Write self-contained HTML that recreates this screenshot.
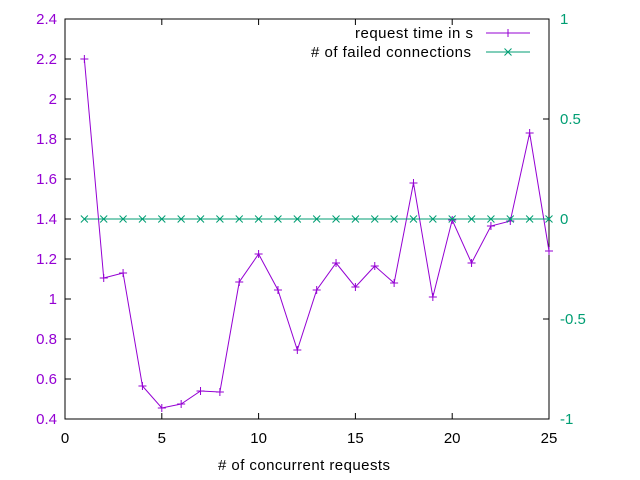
<!DOCTYPE html>
<html><head><meta charset="utf-8"><style>
body{margin:0;background:#fff}
svg{display:block;font-family:"Liberation Sans",sans-serif;font-size:15px}
</style></head><body>
<svg id="c" width="640" height="480">
</svg>
<script>
const categories=[1,2,3,4,5,6,7,8,9,10,11,12,13,14,15,16,17,18,19,20,21,22,23,24,25];
const requestTime=[2.2,1.105,1.13,0.565,0.455,0.475,0.54,0.535,1.085,1.225,1.045,0.745,1.045,1.18,1.06,1.165,1.08,1.58,1.01,1.395,1.18,1.365,1.39,1.83,1.24];
const failedConn=[0,0,0,0,0,0,0,0,0,0,0,0,0,0,0,0,0,0,0,0,0,0,0,0,0];
const xTicks=[0,5,10,15,20,25];
const yTicks=[0.4,0.6,0.8,1,1.2,1.4,1.6,1.8,2,2.2,2.4];
const y2Ticks=[-1,-0.5,0,0.5,1];
const L=65,R=549,T=19,B=419;
const X=v=>L+(v-0)/25*(R-L);
const Y=v=>B-(v-0.4)/2*(B-T);
const Y2=v=>B-(v+1)/2*(B-T);
const svg=document.getElementById('c');const NS='http://www.w3.org/2000/svg';
function el(t,a,txt){const e=document.createElementNS(NS,t);for(const k in a)e.setAttribute(k,a[k]);if(txt!==undefined)e.textContent=txt;svg.appendChild(e);return e;}
const P='#9400d3',G='#009e73';
let e=el('rect',{x:L,y:T,width:R-L,height:B-T,fill:'none',stroke:'#000','stroke-width':1});


xTicks.forEach(v=>{const x=X(v);
el('line',{x1:x,x2:x,y1:B,y2:B-6,stroke:'#000'});el('line',{x1:x,x2:x,y1:T,y2:T+6,stroke:'#000'});
const t=el('text',{x:x,y:443,'text-anchor':'middle',fill:'#000'},v);

});
yTicks.forEach(v=>{const y=Y(v);
el('line',{x1:L,x2:L+6,y1:y,y2:y,stroke:'#000'});
const t=el('text',{x:57,y:y+5,'text-anchor':'end',fill:P},String(v));

});
y2Ticks.forEach(v=>{const y=Y2(v);
el('line',{x1:R,x2:R-6,y1:y,y2:y,stroke:'#000'});
const t=el('text',{x:560,y:y+5,'text-anchor':'start',fill:G},String(v));

});
const xl=el('text',{x:218,y:470,textLength:172,lengthAdjust:'spacing',fill:'#000'},'# of concurrent requests');


function plus(x,y,c){el('path',{d:`M${x-4} ${y}h8M${x} ${y-4}v8`,stroke:c,fill:'none'});}
function cross(x,y,c){el('path',{d:`M${x-3.5} ${y-3.5}l7 7M${x-3.5} ${y+3.5}l7 -7`,stroke:c,fill:'none'});}
const l1=el('polyline',{points:categories.map((c,i)=>X(c)+','+Y(requestTime[i])).join(' '),fill:'none',stroke:P});


categories.forEach((c,i)=>plus(X(c),Y(requestTime[i]),P));
const l2=el('polyline',{points:categories.map((c,i)=>X(c)+','+Y2(failedConn[i])).join(' '),fill:'none',stroke:G});


categories.forEach((c,i)=>cross(X(c),Y2(failedConn[i]),G));
const g1=el('text',{x:355,y:38,textLength:118,lengthAdjust:'spacing',fill:'#000','xml:space':'preserve'},'request time in  s');


el('line',{x1:486,x2:530,y1:33,y2:33,stroke:P});plus(508,33,P);
const g2=el('text',{x:311,y:57,textLength:160,lengthAdjust:'spacing',fill:'#000'},'# of failed connections');


el('line',{x1:486,x2:530,y1:52,y2:52,stroke:G});cross(508,52,G);
</script>
</body></html>
